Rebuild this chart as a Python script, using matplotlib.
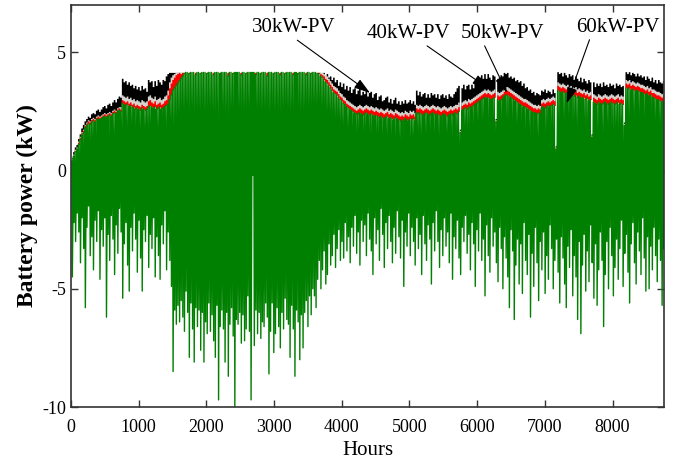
import numpy as np
import matplotlib
matplotlib.use('Agg')
import matplotlib.pyplot as plt

# daily peak charging power (kW), one value per day of the year
max_30kw = [
    0.4, 0.6, 0.8, 0.9, 1.1, 1.3, 1.5, 1.6, 1.8, 1.9,
    2.0, 1.95, 2.05, 2.1, 2.05, 2.15, 2.2, 2.15, 2.2, 2.25,
    2.3, 2.25, 2.3, 2.35, 2.3, 2.4, 2.45, 2.4, 2.5, 2.55,
    2.5, 2.85, 2.8, 2.75, 2.8, 2.7, 2.75, 2.65, 2.7, 2.6,
    2.65, 2.6, 2.55, 2.65, 2.6, 2.55, 2.6, 2.7, 2.75, 2.7,
    2.65, 2.7, 2.6, 2.65, 2.7, 2.6, 2.65, 2.7, 2.75, 2.8,
    3.0, 3.2, 3.4, 3.5, 3.6, 3.7, 3.8, 3.9, 4.0, 4.1,
    4.15, 4.15, 4.1, 4.15, 4.15, 4.15, 4.05, 4.15, 4.15, 4.1,
    4.15, 4.15, 4.15, 4.1, 4.15, 4.15, 4.15, 4.05, 4.15, 4.15,
    4.15, 4.1, 4.15, 4.15, 4.15, 4.15, 4.0, 4.15, 4.15, 4.1,
    4.15, 4.15, 4.15, 4.15, 4.05, 4.15, 4.15, 4.1, 4.15, 4.15,
    4.15, 4.15, 4.15, 4.05, 4.15, 4.15, 4.1, 4.15, 4.15, 4.15,
    4.0, 4.15, 4.15, 4.15, 4.1, 4.15, 4.15, 4.15, 4.05, 4.15,
    4.15, 4.1, 4.15, 4.15, 4.15, 4.15, 4.05, 4.15, 4.15, 4.1,
    4.15, 4.15, 4.15, 4.15, 4.05, 4.15, 4.15, 4.1, 4.15, 4.15,
    4.15, 4.1, 4.1, 4.0, 3.95, 3.85, 3.75, 3.7, 3.6, 3.5,
    3.4, 3.3, 3.25, 3.2, 3.1, 3.0, 2.95, 2.85, 2.8, 2.7,
    2.65, 2.6, 2.55, 2.5, 2.45, 2.4, 2.4, 2.45, 2.4, 2.35,
    2.4, 2.45, 2.4, 2.35, 2.4, 2.35, 2.3, 2.35, 2.3, 2.25,
    2.3, 2.25, 2.2, 2.25, 2.3, 2.2, 2.25, 2.2, 2.15, 2.25,
    2.2, 2.15, 2.1, 2.15, 2.1, 2.2, 2.15, 2.1, 2.2, 2.15,
    2.2, 2.1, 2.45, 2.4, 2.45, 2.4, 2.35, 2.4, 2.45, 2.4,
    2.35, 2.4, 2.45, 2.4, 2.35, 2.4, 2.35, 2.3, 2.35, 2.4,
    2.35, 2.3, 2.35, 2.4, 2.35, 2.4, 2.45, 2.4, 2.5, 1.6,
    2.55, 2.6, 2.65, 2.6, 2.7, 2.65, 2.7, 2.75, 2.8, 2.85,
    2.9, 2.95, 3.0, 3.05, 3.1, 3.05, 3.1, 3.05, 3.0, 3.05,
    3.1, 2.05, 3.0, 2.95, 3.0, 3.05, 3.15, 3.2, 3.2, 3.15,
    3.1, 3.05, 3.0, 2.95, 2.9, 2.85, 2.8, 2.75, 2.7, 2.7,
    2.65, 2.6, 2.55, 2.5, 2.45, 2.45, 2.4, 2.45, 2.4, 2.65,
    2.7, 2.65, 2.7, 2.75, 2.7, 2.75, 2.8, 2.75, 0.9, 3.4,
    3.35, 3.3, 3.35, 3.3, 3.25, 3.3, 3.2, 3.25, 3.2, 3.15,
    3.2, 3.1, 3.15, 3.1, 3.05, 3.1, 3.0, 3.05, 2.95, 3.0,
    1.4, 2.9, 2.85, 2.8, 2.9, 2.85, 2.8, 2.85, 2.9, 2.85,
    2.8, 2.85, 2.9, 2.85, 2.8, 2.85, 2.9, 2.8, 2.85, 2.8,
    1.9, 3.5, 3.45, 3.5, 3.4, 3.45, 3.4, 3.35, 3.4, 3.35,
    3.3, 3.3, 3.25, 3.2, 3.25, 3.15, 3.2, 3.1, 3.1, 3.05,
    3.0, 3.0, 2.95, 2.9, 2.95,
]

max_40kw = [
    0.45, 0.65, 0.85, 0.95, 1.2, 1.4, 1.6, 1.7, 1.9, 2.0,
    2.1, 2.05, 2.15, 2.2, 2.15, 2.25, 2.3, 2.25, 2.3, 2.35,
    2.4, 2.35, 2.4, 2.45, 2.4, 2.5, 2.55, 2.5, 2.6, 2.65,
    2.6, 3.0, 2.95, 2.9, 2.95, 2.85, 2.9, 2.8, 2.85, 2.75,
    2.8, 2.75, 2.7, 2.8, 2.75, 2.7, 2.75, 2.95, 3.0, 2.9,
    2.85, 2.95, 2.8, 2.85, 2.9, 2.8, 2.85, 2.95, 3.0, 3.2,
    3.5, 3.7, 3.85, 3.95, 4.05, 4.1, 4.15, 4.1, 4.15, 4.15,
    4.15, 4.15, 4.15, 4.15, 4.15, 4.15, 4.15, 4.15, 4.15, 4.15,
    4.15, 4.15, 4.15, 4.15, 4.15, 4.15, 4.15, 4.15, 4.15, 4.15,
    4.15, 4.15, 4.15, 4.15, 4.15, 4.15, 4.15, 4.15, 4.15, 4.15,
    4.15, 4.15, 4.15, 4.15, 4.15, 4.15, 4.15, 4.15, 4.15, 4.15,
    4.15, 4.15, 4.15, 4.15, 4.15, 4.15, 4.15, 4.15, 4.15, 4.15,
    4.15, 4.15, 4.15, 4.15, 4.15, 4.15, 4.15, 4.15, 4.15, 4.15,
    4.15, 4.15, 4.15, 4.15, 4.15, 4.15, 4.15, 4.15, 4.15, 4.15,
    4.15, 4.15, 4.15, 4.15, 4.15, 4.15, 4.15, 4.15, 4.15, 4.15,
    4.15, 4.15, 4.15, 4.1, 4.05, 4.0, 3.9, 3.85, 3.75, 3.65,
    3.55, 3.45, 3.4, 3.35, 3.25, 3.15, 3.1, 3.0, 2.95, 2.85,
    2.8, 2.75, 2.7, 2.65, 2.6, 2.55, 2.6, 2.65, 2.6, 2.55,
    2.6, 2.65, 2.6, 2.55, 2.6, 2.55, 2.5, 2.55, 2.5, 2.45,
    2.5, 2.45, 2.4, 2.45, 2.5, 2.4, 2.45, 2.4, 2.35, 2.45,
    2.4, 2.35, 2.3, 2.35, 2.3, 2.4, 2.35, 2.3, 2.4, 2.35,
    2.4, 2.3, 2.65, 2.6, 2.65, 2.6, 2.55, 2.6, 2.65, 2.6,
    2.55, 2.6, 2.65, 2.6, 2.55, 2.6, 2.55, 2.5, 2.55, 2.6,
    2.55, 2.5, 2.55, 2.6, 2.55, 2.6, 2.65, 2.6, 2.7, 1.65,
    2.75, 2.8, 2.85, 2.8, 2.9, 2.85, 2.9, 2.95, 3.0, 3.05,
    3.1, 3.15, 3.2, 3.25, 3.3, 3.25, 3.3, 3.25, 3.2, 3.25,
    3.3, 2.1, 3.2, 3.15, 3.2, 3.25, 3.35, 3.4, 3.4, 3.35,
    3.3, 3.25, 3.2, 3.15, 3.1, 3.05, 3.0, 2.95, 2.9, 2.9,
    2.85, 2.8, 2.75, 2.7, 2.65, 2.65, 2.6, 2.65, 2.6, 2.85,
    2.9, 2.85, 2.9, 2.95, 2.9, 2.95, 3.0, 2.95, 0.95, 3.6,
    3.55, 3.5, 3.55, 3.5, 3.45, 3.5, 3.4, 3.45, 3.4, 3.35,
    3.4, 3.3, 3.35, 3.3, 3.25, 3.3, 3.2, 3.25, 3.15, 3.2,
    1.45, 3.1, 3.05, 3.0, 3.1, 3.05, 3.0, 3.05, 3.1, 3.05,
    3.0, 3.05, 3.1, 3.05, 3.0, 3.05, 3.1, 3.0, 3.05, 3.0,
    1.95, 3.7, 3.65, 3.7, 3.6, 3.65, 3.6, 3.55, 3.6, 3.55,
    3.5, 3.5, 3.45, 3.4, 3.45, 3.35, 3.4, 3.3, 3.3, 3.25,
    3.2, 3.2, 3.15, 3.1, 3.15,
]

max_50kw = [
    0.5, 0.7, 0.9, 1.0, 1.25, 1.45, 1.65, 1.75, 1.95, 2.05,
    2.15, 2.1, 2.2, 2.25, 2.2, 2.3, 2.35, 2.3, 2.35, 2.4,
    2.45, 2.4, 2.45, 2.5, 2.45, 2.55, 2.6, 2.55, 2.65, 2.7,
    2.7, 3.2, 3.15, 3.1, 3.15, 3.05, 3.1, 3.0, 3.05, 2.95,
    3.0, 2.95, 2.9, 3.0, 2.95, 2.9, 2.95, 3.15, 3.2, 3.1,
    3.05, 3.15, 3.0, 3.05, 3.1, 3.0, 3.05, 3.15, 3.2, 3.4,
    3.75, 3.95, 4.05, 4.1, 4.15, 4.15, 4.15, 4.15, 4.15, 4.15,
    4.15, 4.15, 4.15, 4.15, 4.15, 4.15, 4.15, 4.15, 4.15, 4.15,
    4.15, 4.15, 4.15, 4.15, 4.15, 4.15, 4.15, 4.15, 4.15, 4.15,
    4.15, 4.15, 4.15, 4.15, 4.15, 4.15, 4.15, 4.15, 4.15, 4.15,
    4.15, 4.15, 4.15, 4.15, 4.15, 4.15, 4.15, 4.15, 4.15, 4.15,
    4.15, 4.15, 4.15, 4.15, 4.15, 4.15, 4.15, 4.15, 4.15, 4.15,
    4.15, 4.15, 4.15, 4.15, 4.15, 4.15, 4.15, 4.15, 4.15, 4.15,
    4.15, 4.15, 4.15, 4.15, 4.15, 4.15, 4.15, 4.15, 4.15, 4.15,
    4.15, 4.15, 4.15, 4.15, 4.15, 4.15, 4.15, 4.15, 4.15, 4.15,
    4.15, 4.15, 4.15, 4.15, 4.15, 4.1, 4.05, 4.0, 3.9, 3.8,
    3.7, 3.6, 3.55, 3.5, 3.4, 3.3, 3.25, 3.15, 3.1, 3.0,
    2.95, 2.9, 2.85, 2.8, 2.75, 2.7, 2.75, 2.8, 2.75, 2.7,
    2.75, 2.8, 2.75, 2.7, 2.75, 2.7, 2.65, 2.7, 2.65, 2.6,
    2.65, 2.6, 2.55, 2.6, 2.65, 2.55, 2.6, 2.55, 2.5, 2.6,
    2.55, 2.5, 2.45, 2.5, 2.45, 2.55, 2.5, 2.45, 2.55, 2.5,
    2.55, 2.45, 2.8, 2.75, 2.8, 2.75, 2.7, 2.75, 2.8, 2.75,
    2.7, 2.75, 2.8, 2.75, 2.7, 2.75, 2.7, 2.65, 2.7, 2.75,
    2.7, 2.65, 2.7, 2.75, 2.7, 2.75, 2.8, 2.8, 2.9, 1.7,
    2.9, 2.95, 3.0, 2.95, 3.05, 3.0, 3.05, 3.1, 3.15, 3.2,
    3.25, 3.3, 3.35, 3.4, 3.45, 3.4, 3.45, 3.4, 3.35, 3.4,
    3.45, 2.15, 3.35, 3.3, 3.35, 3.4, 3.5, 3.55, 3.55, 3.5,
    3.45, 3.4, 3.35, 3.3, 3.25, 3.2, 3.15, 3.1, 3.05, 3.05,
    3.0, 2.95, 2.9, 2.85, 2.8, 2.8, 2.75, 2.8, 2.75, 3.0,
    3.05, 3.0, 3.05, 3.1, 3.05, 3.1, 3.15, 3.1, 1.0, 3.75,
    3.7, 3.65, 3.7, 3.65, 3.6, 3.65, 3.55, 3.6, 3.55, 3.5,
    3.55, 3.45, 3.5, 3.45, 3.4, 3.45, 3.35, 3.4, 3.3, 3.35,
    1.5, 3.25, 3.2, 3.15, 3.25, 3.2, 3.15, 3.2, 3.25, 3.2,
    3.15, 3.2, 3.25, 3.2, 3.15, 3.2, 3.25, 3.15, 3.2, 3.15,
    2.0, 3.85, 3.8, 3.85, 3.75, 3.8, 3.75, 3.7, 3.75, 3.7,
    3.65, 3.65, 3.6, 3.55, 3.6, 3.5, 3.55, 3.45, 3.45, 3.4,
    3.35, 3.35, 3.3, 3.25, 3.3,
]

max_60kw = [
    0.55, 0.8, 1.0, 1.1, 1.35, 1.55, 1.8, 1.95, 2.1, 2.2,
    2.3, 2.25, 2.4, 2.45, 2.4, 2.55, 2.6, 2.5, 2.6, 2.7,
    2.75, 2.65, 2.8, 2.85, 2.75, 2.9, 3.0, 2.9, 3.05, 3.15,
    3.1, 3.9, 3.75, 3.8, 3.65, 3.75, 3.6, 3.65, 3.5, 3.6,
    3.45, 3.55, 3.4, 3.6, 3.45, 3.5, 3.35, 3.85, 3.75, 3.8,
    3.55, 3.8, 3.6, 3.85, 3.75, 3.65, 3.85, 3.8, 4.0, 4.1,
    4.15, 4.15, 4.15, 4.15, 4.15, 4.15, 4.15, 4.15, 4.15, 4.15,
    4.15, 4.15, 4.15, 4.15, 4.15, 4.15, 4.15, 4.15, 4.15, 4.15,
    4.15, 4.15, 4.15, 4.15, 4.15, 4.15, 4.15, 4.15, 4.15, 4.15,
    4.15, 4.15, 4.15, 4.15, 4.15, 4.15, 4.15, 4.15, 4.15, 4.15,
    4.15, 4.15, 4.15, 4.15, 4.15, 4.15, 4.15, 4.15, 4.15, 4.15,
    4.15, 4.15, 4.15, 4.15, 4.15, 4.15, 4.15, 4.15, 4.15, 4.15,
    4.15, 4.15, 4.15, 4.15, 4.15, 4.15, 4.15, 4.15, 4.15, 4.15,
    4.15, 4.15, 4.15, 4.15, 4.15, 4.15, 4.15, 4.15, 4.15, 4.15,
    4.15, 4.15, 4.15, 4.15, 4.15, 4.15, 4.15, 4.15, 4.15, 4.15,
    4.15, 4.15, 4.15, 4.15, 4.1, 4.15, 4.0, 4.1, 3.95, 4.0,
    3.85, 3.95, 3.75, 3.85, 3.6, 3.75, 3.55, 3.7, 3.45, 3.6,
    3.4, 3.55, 3.3, 3.45, 3.5, 3.25, 3.4, 3.5, 3.2, 3.35,
    3.25, 3.4, 3.15, 3.3, 3.35, 3.1, 3.25, 3.3, 3.0, 3.15,
    3.2, 2.95, 3.0, 3.1, 3.15, 2.9, 3.05, 2.85, 3.0, 3.1,
    2.85, 2.95, 2.8, 2.95, 2.85, 3.0, 2.85, 2.9, 3.0, 2.85,
    2.95, 2.8, 3.4, 3.2, 3.35, 3.15, 3.25, 3.3, 3.1, 3.25,
    3.1, 3.3, 3.2, 3.25, 3.1, 3.25, 3.05, 3.2, 3.25, 3.1,
    3.2, 3.05, 3.25, 3.15, 3.1, 3.25, 3.35, 3.5, 3.6, 1.75,
    3.5, 3.65, 3.45, 3.6, 3.65, 3.45, 3.65, 3.5, 3.7, 3.75,
    3.85, 3.95, 4.05, 3.9, 4.1, 3.9, 4.1, 3.95, 3.85, 4.05,
    4.0, 2.2, 3.9, 3.95, 4.05, 4.0, 4.15, 4.1, 4.15, 3.95,
    4.0, 3.9, 3.95, 3.8, 3.85, 3.75, 3.8, 3.6, 3.7, 3.5,
    3.55, 3.4, 3.45, 3.3, 3.35, 3.2, 3.3, 3.25, 3.2, 3.4,
    3.35, 3.45, 3.3, 3.4, 3.35, 3.25, 3.45, 3.3, 1.05, 4.18,
    4.1, 4.15, 4.0, 4.15, 4.05, 3.95, 4.1, 4.0, 4.05, 3.85,
    4.0, 3.9, 3.8, 3.95, 3.75, 3.9, 3.8, 3.7, 3.85, 3.75,
    1.55, 3.75, 3.55, 3.7, 3.6, 3.7, 3.55, 3.75, 3.6, 3.65,
    3.55, 3.7, 3.6, 3.65, 3.5, 3.7, 3.6, 3.65, 3.55, 3.6,
    2.05, 4.18, 4.1, 4.18, 4.05, 4.15, 4.1, 4.0, 4.12, 4.0,
    4.05, 3.95, 4.0, 3.85, 4.0, 3.9, 3.8, 3.95, 3.75, 3.85,
    3.7, 3.85, 3.75, 3.7, 3.8,
]

# daily deepest discharge (kW), shared by the four cases
day_min = [
    -4.5, -2.2, -3.0, -1.8, -2.6, -3.9, -2.0, -3.3, -5.8, -2.4,
    -1.5, -3.6, -2.8, -4.2, -2.1, -3.0, -1.7, -4.6, -2.5, -3.2,
    -2.0, -6.2, -2.7, -3.8, -1.9, -2.9, -4.4, -2.3, -3.5, -1.6,
    -2.6, -5.4, -3.1, -2.2, -4.0, -5.1, -2.4, -3.4, -1.8, -2.9,
    -4.3, -2.1, -3.7, -5.1, -2.5, -3.0, -1.9, -4.1, -2.7, -3.3,
    -2.0, -4.5, -2.8, -3.6, -4.6, -2.3, -3.1, -1.7, -4.2, -2.6,
    -3.8, -4.9, -8.5, -5.9, -6.5, -5.7, -6.4, -5.5, -6.2, -6.8,
    -5.1, -6.0, -7.9, -5.6, -6.7, -8.1, -5.8, -6.6, -5.9, -7.6,
    -6.0, -8.1, -6.4, -6.9, -5.6, -6.8, -6.1, -7.2, -7.9, -5.7,
    -9.7, -6.6, -5.9, -6.7, -8.1, -6.0, -8.7, -6.5, -5.8, -7.0,
    -10.0, -6.3, -6.5, -6.0, -7.3, -6.1, -7.2, -6.7, -5.3, -6.8,
    -9.7, -0.2, -7.4, -5.9, -6.9, -6.0, -7.1, -6.4, -6.6, -5.6,
    -6.2, -8.6, -6.8, -5.6, -7.7, -6.9, -5.8, -6.6, -7.5, -6.0,
    -6.7, -5.4, -6.3, -6.5, -7.9, -5.7, -6.7, -8.7, -5.9, -6.4,
    -8.0, -6.1, -7.5, -6.0, -5.5, -6.6, -5.3, -6.1, -5.0, -5.3,
    -5.8, -4.6, -3.8, -5.0, -4.2, -3.4, -4.8, -4.4, -3.1, -4.0,
    -3.6, -2.7, -4.1, -3.3, -2.5, -3.8, -3.0, -3.7, -2.2, -3.4,
    -2.8, -3.9, -2.4, -3.2, -1.9, -3.5, -2.6, -4.0, -2.1, -3.0,
    -2.3, -3.6, -1.8, -2.9, -3.4, -4.4, -2.0, -3.1, -2.5, -3.8,
    -1.6, -2.7, -4.1, -2.2, -3.3, -1.9, -3.0, -3.9, -2.4, -3.5,
    -1.7, -2.8, -3.7, -2.1, -4.9, -2.6, -3.2, -1.8, -3.6, -2.4,
    -3.0, -4.0, -2.0, -3.3, -2.7, -4.4, -1.9, -3.1, -3.8, -2.3,
    -2.9, -4.8, -2.2, -3.4, -1.7, -3.0, -4.1, -2.5, -3.6, -2.0,
    -3.2, -2.6, -3.9, -1.8, -4.6, -2.8, -3.3, -2.1, -3.7, -4.4,
    -2.4, -3.0, -1.9, -3.5, -2.7, -4.2, -2.2, -3.1, -4.9, -2.5,
    -3.4, -1.8, -3.8, -2.9, -5.3, -2.3, -3.6, -4.3, -2.0, -3.2,
    -2.6, -3.9, -4.7, -2.4, -3.3, -5.0, -2.8, -3.7, -4.5, -5.8,
    -2.5, -3.4, -6.3, -4.0, -2.9, -4.8, -3.1, -5.2, -2.2, -3.8,
    -4.4, -2.7, -6.2, -3.5, -4.9, -2.4, -3.9, -5.5, -3.0, -4.2,
    -2.6, -5.2, -3.6, -4.6, -2.3, -3.3, -5.0, -3.8, -2.9, -4.3,
    -5.6, -2.8, -3.7, -4.8, -5.8, -3.2, -4.1, -2.5, -5.3, -3.6,
    -4.5, -6.3, -3.0, -6.9, -4.0, -2.7, -5.1, -3.4, -4.7, -2.3,
    -3.9, -5.4, -3.1, -5.7, -4.2, -2.6, -3.8, -6.6, -4.4, -3.0,
    -5.0, -2.4, -3.6, -5.3, -4.1, -2.9, -4.6, -3.3, -2.1, -4.9,
    -3.5, -2.7, -4.3, -5.6, -3.1, -2.2, -3.9, -4.8, -2.6, -3.4,
    -4.4, -2.0, -3.7, -5.1, -2.8, -5.0, -3.2, -4.2, -2.4, -3.6,
    -4.7, -2.9, -3.8, -5.7, -3.3,
]

labels = ['30kW-PV', '40kW-PV', '50kW-PV', '60kW-PV']
label_pos = [(3287, 6.03), (4979, 5.79), (6375, 5.79), (8081, 6.05)]
arrow_tip = [(4417, 3.28), (6165, 3.47), (6441, 3.28), (7323, 2.84)]
arrow_from = [(0.5, 0.0), (0.68, 0.0), (0.27, 0.0), (0.17, 0.0)]

for s in [max_30kw, max_40kw, max_50kw, max_60kw, day_min]:
    assert len(s) == 365, len(s)

plt.rcParams['font.family'] = ['Liberation Serif', 'DejaVu Serif']
plt.rcParams['axes.unicode_minus'] = False

fig = plt.figure(figsize=(6.76, 4.68), dpi=100)
ax = fig.add_axes([71 / 676, 61 / 468, 593 / 676, 402 / 468])

days = np.arange(365)
t_peak = days * 24 + 12
t_low = days * 24 + 20

# upper bands of the larger PV cases, drawn behind the 30 kW trace
for vals, col in [(max_60kw, 'black'), (max_50kw, '#d6d2ce'), (max_40kw, '#ff0000')]:
    ax.fill_between(t_peak, max_30kw, vals, step='mid', color=col, lw=0)

# 30 kW case: peak then deepest discharge each day
t = np.empty(730)
p = np.empty(730)
t[0::2] = t_peak
t[1::2] = t_low
p[0::2] = max_30kw
p[1::2] = day_min
ax.plot(t, p, color='#008000', lw=1.0)

for lab, xyt, tip, rp in zip(labels, label_pos, arrow_tip, arrow_from):
    ax.annotate(lab, xy=tip, xytext=xyt, fontsize=15, ha='center', va='center',
                arrowprops=dict(arrowstyle='-|>,head_length=0.7,head_width=0.22',
                                color='black', lw=0.8, relpos=rp,
                                shrinkA=0, shrinkB=0, mutation_scale=14))

ax.set_xlim(0, 8760)
ax.set_ylim(-10, 7)
ax.set_xticks(range(0, 8001, 1000))
ax.set_yticks([-10, -5, 0, 5])
ax.tick_params(direction='in', length=5, width=1, top=True, right=True,
               labelsize=13, color='#333333')
ax.tick_params(axis='x', pad=9)
ax.tick_params(axis='y', pad=3.5)
for sp in ax.spines.values():
    sp.set_color('#333333')
    sp.set_linewidth(1.2)

ax.set_xlabel('Hours', fontsize=15, labelpad=3)
ax.set_ylabel('Battery power (kW)', fontsize=17, fontweight='bold', labelpad=3)

fig.savefig('out.png', dpi=100)
